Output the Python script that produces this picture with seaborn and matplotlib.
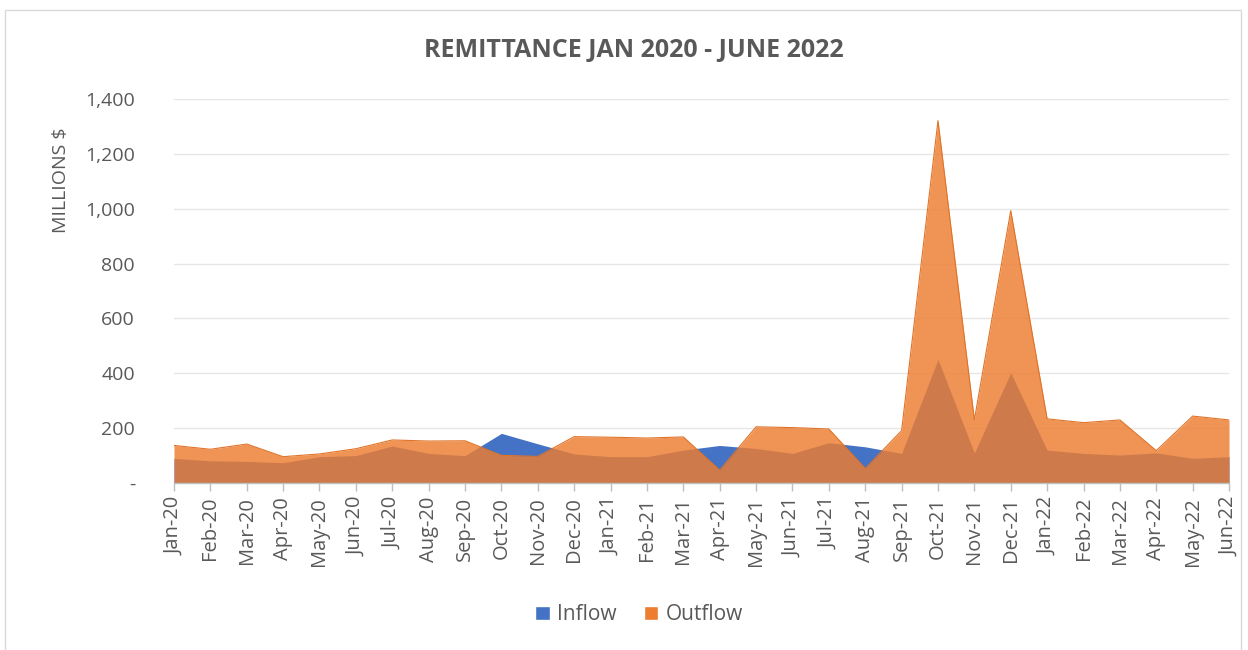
import pandas as pd
import matplotlib.pyplot as plt
import seaborn as sns
from matplotlib.patches import Patch, Rectangle

# Remittance data (millions $)
months = ['Jan-20', 'Feb-20', 'Mar-20', 'Apr-20', 'May-20', 'Jun-20', 'Jul-20', 'Aug-20',
          'Sep-20', 'Oct-20', 'Nov-20', 'Dec-20', 'Jan-21', 'Feb-21', 'Mar-21', 'Apr-21',
          'May-21', 'Jun-21', 'Jul-21', 'Aug-21', 'Sep-21', 'Oct-21', 'Nov-21', 'Dec-21',
          'Jan-22', 'Feb-22', 'Mar-22', 'Apr-22', 'May-22', 'Jun-22']
inflow = [90, 81, 79, 74, 96, 100, 135, 108, 100, 181, 143, 106, 96, 96, 120, 137,
          126, 108, 147, 132, 108, 451, 110, 402, 120, 108, 102, 110, 90, 96]
outflow = [137, 123, 142, 96, 106, 125, 157, 153, 154, 101, 97, 169, 167, 164, 168, 47,
           205, 202, 197, 53, 191, 1321, 230, 993, 234, 220, 230, 118, 244, 230]

df = pd.DataFrame({'month': months, 'Inflow': inflow, 'Outflow': outflow})
df['pos'] = range(len(df))

blue = '#4472C4'
orange = '#ED7D31'
grey_text = '#595959'

sns.set_theme(style='white')
plt.rcParams['font.family'] = ['Open Sans', 'DejaVu Sans']

fig = plt.figure(figsize=(12.48, 6.5), dpi=100)
ax = fig.add_axes([0.1394, 0.2569, 0.8454, 0.5908])

ax.fill_between(df['pos'], 0, df['Inflow'], color=blue, linewidth=0, zorder=2)
ax.fill_between(df['pos'], 0, df['Outflow'], color=orange, alpha=0.82, linewidth=0, zorder=3)
sns.lineplot(data=df, x='pos', y='Outflow', ax=ax, color='#E07328', linewidth=0.8, zorder=4)

ax.set_xlim(0, len(df) - 1)
ax.set_ylim(0, 1400)
ax.set_yticks(range(0, 1401, 200))
ax.set_yticklabels(['-' if v == 0 else f'{v:,}' for v in range(0, 1401, 200)],
                   fontsize=14, color=grey_text)
ax.set_xticks(df['pos'])
ax.set_xticklabels(df['month'], rotation=90, fontsize=14.5, color=grey_text)
ax.tick_params(axis='x', length=6, width=1, color='#BFBFBF', pad=4, bottom=True)
ax.tick_params(axis='y', length=0, pad=28)
ax.set_xlabel('')
ax.set_ylabel('')

ax.grid(axis='y', color='#E6E6E6', linewidth=1)
ax.set_axisbelow(True)
for side in ['top', 'right', 'left']:
    ax.spines[side].set_visible(False)
ax.spines['bottom'].set_color('#BFBFBF')
ax.spines['bottom'].set_linewidth(1)
ax.spines['bottom'].set_zorder(5)

fig.text(0.508, 0.923, 'REMITTANCE JAN 2020 - JUNE 2022', ha='center', va='center',
         fontsize=18, fontweight='bold', color=grey_text)
fig.text(0.049, 0.722, 'MILLIONS $', rotation=90, ha='center', va='center',
         fontsize=14, color=grey_text)

handles = [Patch(facecolor=blue, label='Inflow'), Patch(facecolor=orange, label='Outflow')]
fig.legend(handles=handles, loc='center', bbox_to_anchor=(0.512, 0.054), ncol=2,
           frameon=False, fontsize=15, handlelength=0.7, handleheight=0.7,
           handletextpad=0.35, columnspacing=1.3, labelcolor=grey_text)

fig.patches.append(Rectangle((0.004, -0.01), 0.99, 0.995, transform=fig.transFigure,
                             fill=False, edgecolor='#D9D9D9', linewidth=1))

fig.savefig('out.png', dpi=100)
